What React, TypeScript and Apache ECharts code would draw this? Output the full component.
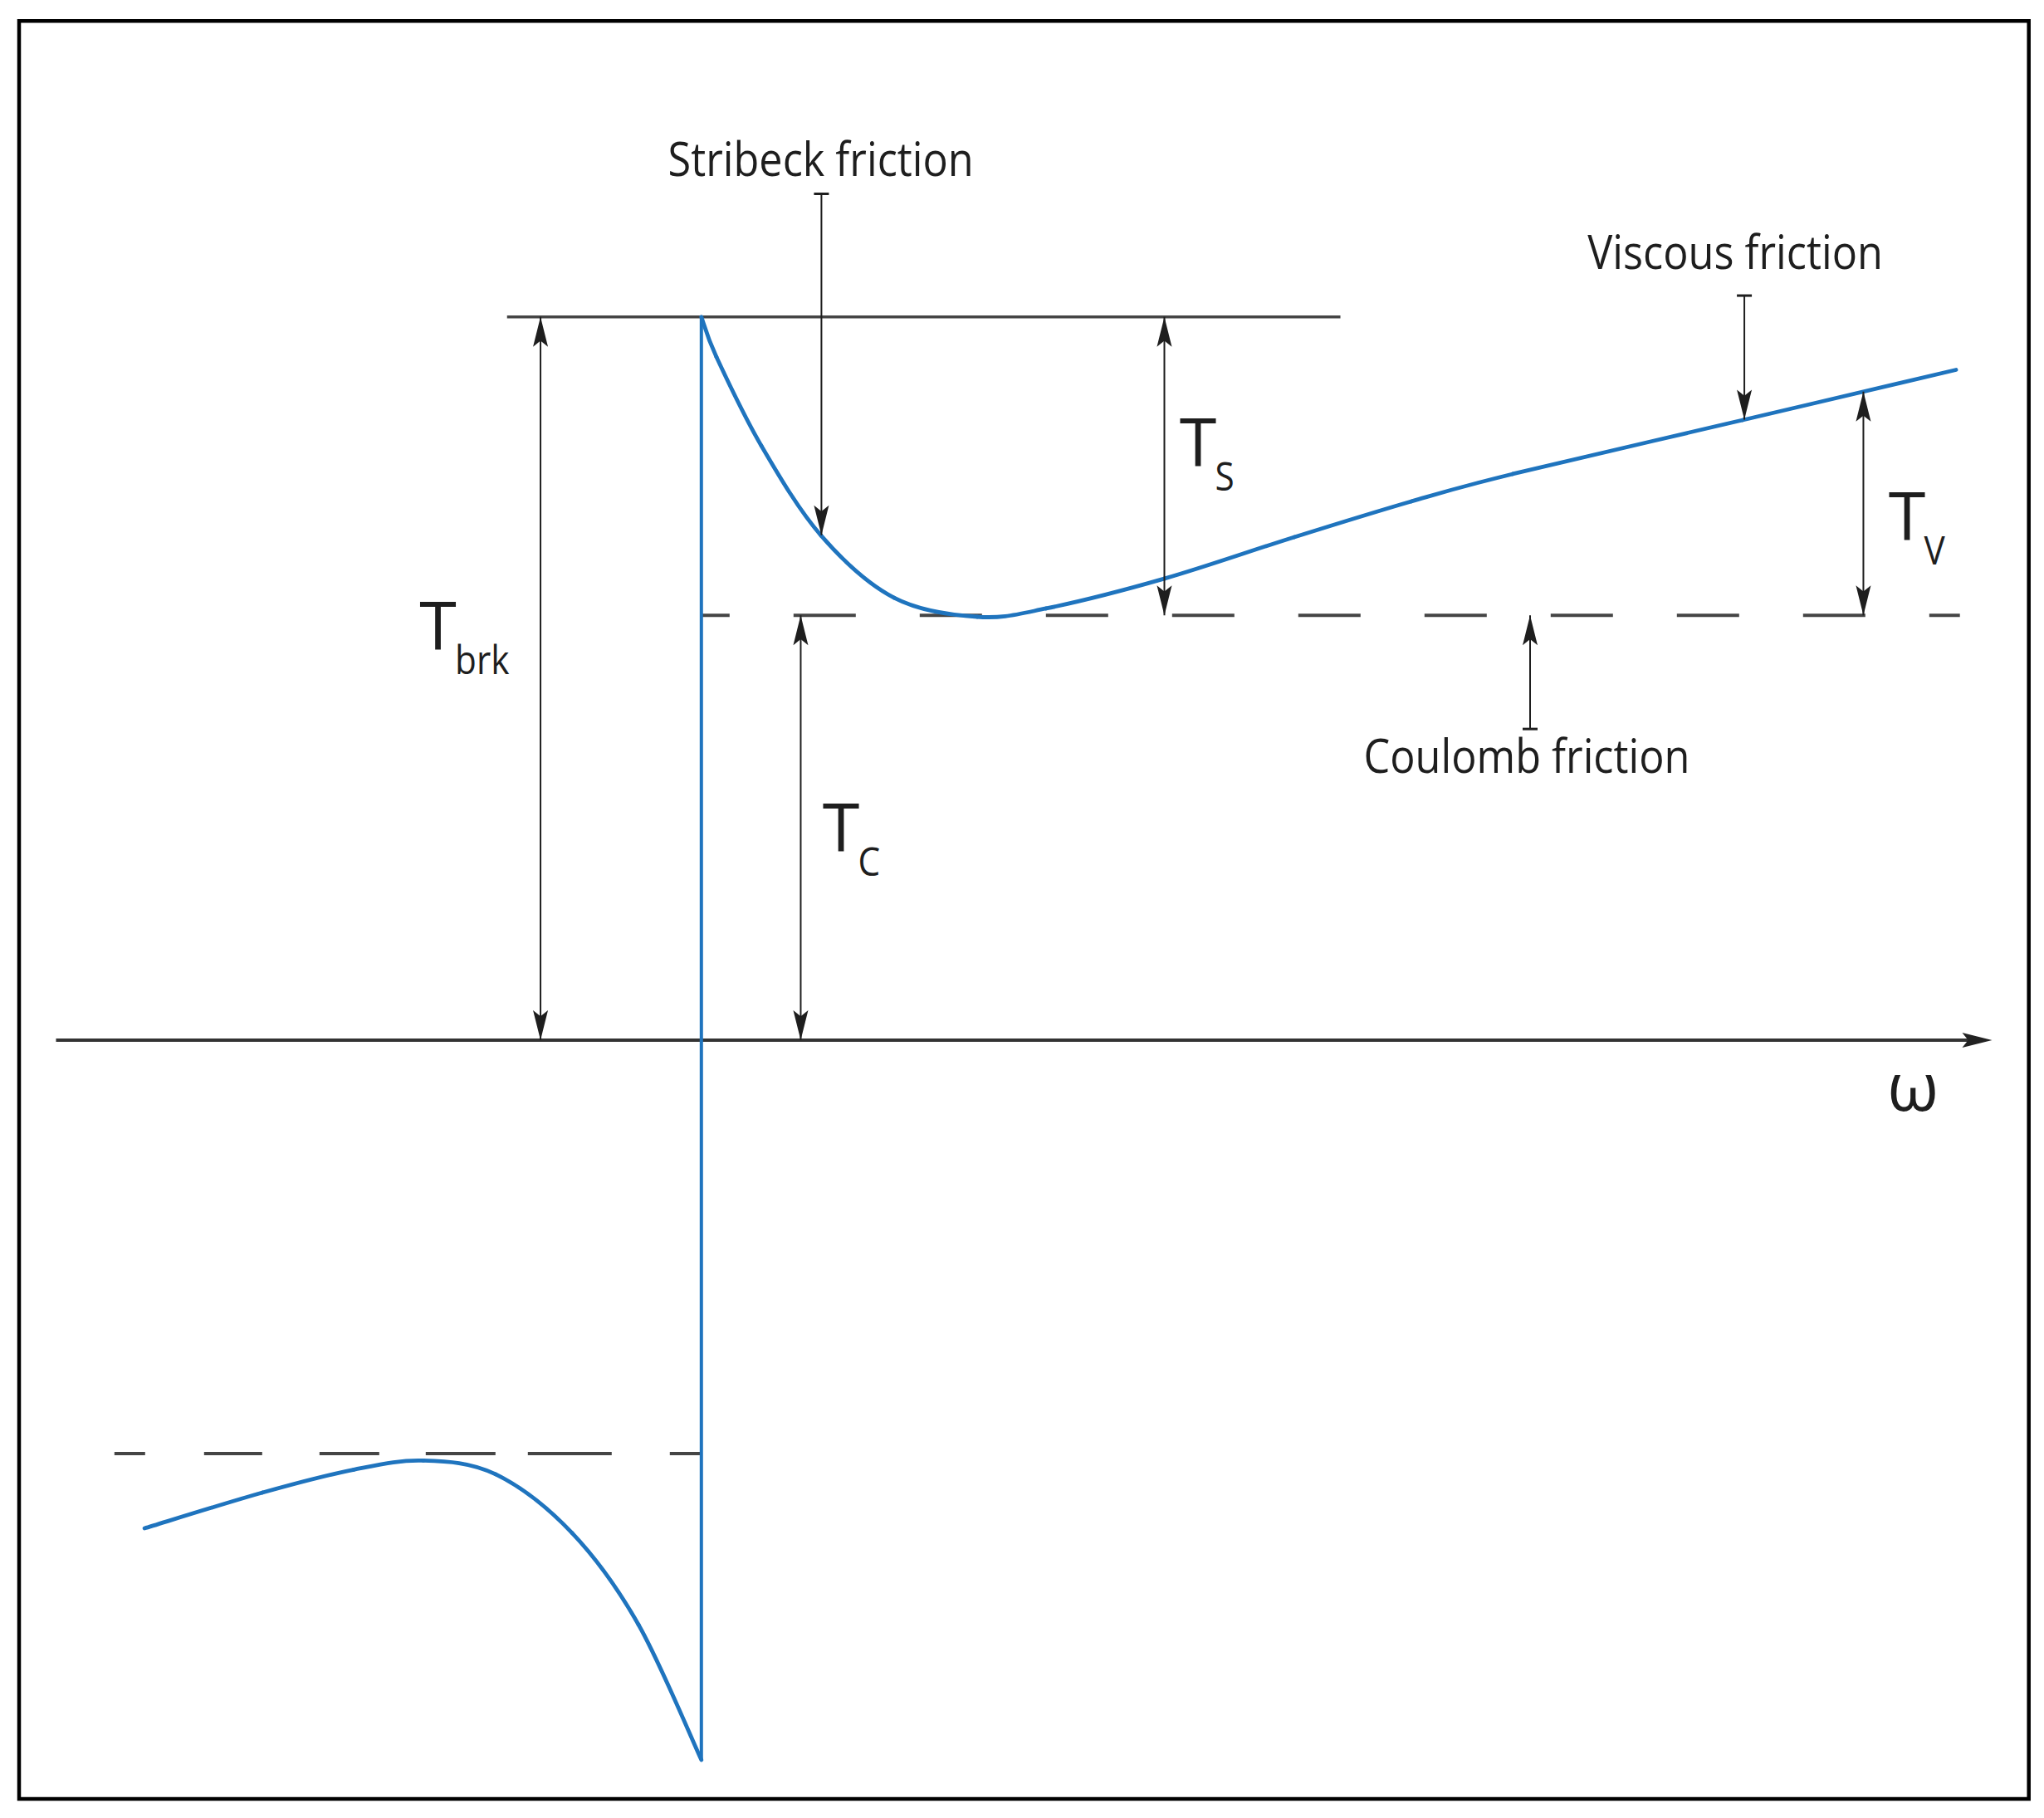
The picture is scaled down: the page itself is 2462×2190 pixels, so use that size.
import { useEffect, useRef } from "react";
import * as echarts from "echarts";

const WIDTH = 2462;
const HEIGHT = 2190;

// Axis domains: angular velocity ω (horizontal), friction torque T (vertical), arbitrary units
const OMEGA_MIN = -5;
const OMEGA_MAX = 10;
const TORQUE_MIN = -5.5;
const TORQUE_MAX = 7;

// Characteristic torque levels
const T_BRK = 5.125;
const T_COULOMB = 3.01;
const T_COULOMB_NEG = -2.93;
const T_BRK_NEG = -5.1;

// Friction curve for ω > 0 : [ω, T]
const positiveBranch: [number, number][] = [
  [0, 5.125], [0.117, 4.841], [0.466, 4.212], [0.93, 3.576], [1.498, 3.135],
  [2.143, 3.0], [2.679, 3.059], [3.601, 3.271], [4.608, 3.565], [5.517, 3.818],
  [6.305, 4.012], [8.092, 4.394], [9.75, 4.75],
];

// Friction curve for ω < 0 : [ω, T]
const negativeBranch: [number, number][] = [
  [-4.327, -3.459], [-3.411, -3.206], [-2.7, -3.043], [-2.16, -2.979],
  [-1.599, -3.076], [-1.005, -3.492], [-0.489, -4.141], [0, -5.1],
];

// Reference lines [ω, T]
const breakawayLine: [number, number][] = [[-1.51, T_BRK], [4.966, T_BRK]];
const coulombLine: [number, number][] = [[0, T_COULOMB], [9.78, T_COULOMB]];
const coulombLineNeg: [number, number][] = [[0, T_COULOMB_NEG], [-4.57, T_COULOMB_NEG]];
const jumpLine: [number, number][] = [[0, T_BRK_NEG], [0, T_BRK]];
const omegaAxisExtent = [-5.015, 10.03];

// Dimension arrows (double headed): ω, from T, to T
const dimOmega = [-1.25, 0.772, 3.598, 9.03];
const dimFrom = [0, 0, T_COULOMB, T_COULOMB];
const dimTo = [T_BRK, T_COULOMB, T_BRK, 4.595];

// Pointer arrows: ω, tail T, tip T
const ptrOmega = [0.933, 8.105, 6.44];
const ptrTail = [5.997, 5.276, 2.205];
const ptrTip = [3.578, 4.397, T_COULOMB];

// Symbol labels T_x : centre ω, baseline T
const symMain = ["T", "T", "T", "T"];
const symSub = ["brk", "S", "C", "V"];
const symOmega = [-2.047, 3.859, 1.085, 9.369];
const symTorque = [2.766, 4.066, 1.335, 3.541];

// Text notes : centre ω, baseline T
const noteText = ["Stribeck friction", "Viscous friction", "Coulomb friction"];
const noteOmega = [0.928, 8.034, 6.414];
const noteTorque = [6.125, 5.465, 1.894];

// Axis label
const axisLabel = "ω";
const axisLabelPos = [9.415, -0.5];

const BLUE = "#1f74be";
const INK = "#1e1e1e";
const GRAY = "#454545";
const FONT = "'Open Sans', 'Noto Sans', sans-serif";
const CENTRAL = 0.388;
const HEAD_W = 18;
const HEAD_L = 36;

function vHead(x: number, tipY: number, towardY: number) {
  const s = towardY > tipY ? 1 : -1;
  return {
    type: "polygon",
    shape: {
      points: [
        [x, tipY],
        [x + HEAD_W / 2, tipY + s * HEAD_L],
        [x, tipY + s * HEAD_L * 0.8],
        [x - HEAD_W / 2, tipY + s * HEAD_L],
      ],
    },
    style: { fill: INK },
  };
}

function lineEl(x1: number, y1: number, x2: number, y2: number, w: number, color: string) {
  return {
    type: "line",
    shape: { x1, y1, x2, y2 },
    style: { stroke: color, lineWidth: w },
  };
}

function textEl(text: string, x: number, baseline: number, size: number, align: string, scaleX: number, color: string) {
  return {
    type: "text",
    x,
    y: baseline - CENTRAL * size,
    scaleX,
    style: {
      text,
      x: 0,
      y: 0,
      fill: color,
      fontSize: size,
      fontFamily: FONT,
      fontWeight: "normal",
      align,
      textAlign: align,
      verticalAlign: "middle",
      textVerticalAlign: "middle",
    },
  };
}

function lineSeries(name: string, data: [number, number][], lineStyle: any, z: number) {
  return {
    type: "line",
    name,
    data,
    showSymbol: false,
    symbol: "none",
    lineStyle,
    z,
    silent: true,
    clip: false,
  };
}

// Smooth (Catmull-Rom) curve through the data points, positioned by the cartesian scales
function curveSeries(name: string, data: [number, number][]) {
  return {
    type: "custom",
    name,
    silent: true,
    clip: false,
    z: 3,
    data,
    renderItem: (p: any, api: any) => {
      if (p.dataIndex !== 0) return null;
      const pts: number[][] = data.map((d) => api.coord(d));
      const n = pts.length;
      const children: any[] = [];
      for (let i = 0; i < n - 1; i++) {
        const p0 = pts[Math.max(0, i - 1)];
        const p1 = pts[i];
        const p2 = pts[i + 1];
        const p3 = pts[Math.min(n - 1, i + 2)];
        children.push({
          type: "bezierCurve",
          shape: {
            x1: p1[0], y1: p1[1],
            x2: p2[0], y2: p2[1],
            cpx1: p1[0] + (p2[0] - p0[0]) / 6,
            cpy1: p1[1] + (p2[1] - p0[1]) / 6,
            cpx2: p2[0] - (p3[0] - p1[0]) / 6,
            cpy2: p2[1] - (p3[1] - p1[1]) / 6,
          },
          style: { stroke: BLUE, lineWidth: 4.8, fill: "none", lineCap: "round" },
        });
      }
      return { type: "group", children };
    },
  };
}

const option: any = {
  animation: false,
  backgroundColor: "#ffffff",
  grid: { left: 69.8, right: 67.2, top: 63, bottom: 2, containLabel: false },
  xAxis: { type: "value", min: OMEGA_MIN, max: OMEGA_MAX, show: false },
  yAxis: { type: "value", min: TORQUE_MIN, max: TORQUE_MAX, show: false },
  tooltip: { show: false },
  graphic: [
    {
      type: "rect",
      shape: { x: 23, y: 25.3, width: 2420.7, height: 2141.7 },
      style: { fill: "none", stroke: "#000", lineWidth: 4.5 },
      z: 100,
      silent: true,
    },
  ],
  series: [
    lineSeries("Breakaway level", breakawayLine, { color: GRAY, width: 3.5 }, 1),
    lineSeries("Coulomb level", coulombLine, { color: GRAY, width: 4, type: [75, 77], dashOffset: 41 }, 1),
    lineSeries("Coulomb level (neg)", coulombLineNeg, {
      color: GRAY, width: 4, type: [38, 70, 101, 39, 84, 56, 72, 69, 70, 71, 37, 120],
    }, 1),
    {
      type: "custom",
      name: "ω axis",
      silent: true,
      clip: false,
      z: 2,
      data: [[omegaAxisExtent[0], 0]],
      renderItem: (_p: any, api: any) => {
        const a = api.coord([omegaAxisExtent[0], 0]);
        const b = api.coord([omegaAxisExtent[1], 0]);
        return {
          type: "group",
          children: [
            lineEl(a[0], a[1], b[0] - HEAD_L * 0.7, b[1], 4, "#333"),
            {
              type: "polygon",
              shape: {
                points: [
                  [b[0], b[1]],
                  [b[0] - HEAD_L, b[1] - 9],
                  [b[0] - HEAD_L * 0.8, b[1]],
                  [b[0] - HEAD_L, b[1] + 9],
                ],
              },
              style: { fill: "#222" },
            },
          ],
        };
      },
    },
    lineSeries("Breakaway jump", jumpLine, { color: BLUE, width: 4 }, 3),
    curveSeries("Friction ω>0", positiveBranch),
    curveSeries("Friction ω<0", negativeBranch),
    {
      type: "custom",
      name: "Dimensions",
      silent: true,
      clip: false,
      z: 4,
      data: dimOmega.map((w, i) => [w, dimFrom[i], dimTo[i]]),
      renderItem: (_p: any, api: any) => {
        const w = api.value(0);
        const p1 = api.coord([w, api.value(1)]);
        const p2 = api.coord([w, api.value(2)]);
        return {
          type: "group",
          children: [
            lineEl(p1[0], p1[1], p2[0], p2[1], 2, INK),
            vHead(p1[0], p1[1], p2[1]),
            vHead(p2[0], p2[1], p1[1]),
          ],
        };
      },
    },
    {
      type: "custom",
      name: "Pointers",
      silent: true,
      clip: false,
      z: 4,
      data: ptrOmega.map((w, i) => [w, ptrTail[i], ptrTip[i]]),
      renderItem: (_p: any, api: any) => {
        const w = api.value(0);
        const t = api.coord([w, api.value(1)]);
        const h = api.coord([w, api.value(2)]);
        return {
          type: "group",
          children: [
            lineEl(t[0] - 9, t[1], t[0] + 9, t[1], 3, INK),
            lineEl(t[0], t[1], h[0], h[1], 2, INK),
            vHead(h[0], h[1], t[1]),
          ],
        };
      },
    },
    {
      type: "custom",
      name: "Symbols",
      silent: true,
      clip: false,
      z: 5,
      data: symOmega.map((w, i) => [w, symTorque[i]]),
      renderItem: (p: any, api: any) => {
        const i = p.dataIndex;
        const c = api.coord([api.value(0), api.value(1)]);
        return {
          type: "group",
          children: [
            textEl(symMain[i], c[0], c[1], 81, "center", 1, INK),
            textEl(symSub[i], c[0] + 20.5, c[1] + 29, 47, "left", 0.9, INK),
          ],
        };
      },
    },
    {
      type: "custom",
      name: "Notes",
      silent: true,
      clip: false,
      z: 5,
      data: noteOmega.map((w, i) => [w, noteTorque[i]]),
      renderItem: (p: any, api: any) => {
        const i = p.dataIndex;
        const c = api.coord([api.value(0), api.value(1)]);
        return textEl(noteText[i], c[0], c[1], 56, "center", 0.9, INK);
      },
    },
    {
      type: "custom",
      name: "Axis label",
      silent: true,
      clip: false,
      z: 5,
      data: [axisLabelPos],
      renderItem: (_p: any, api: any) => {
        const c = api.coord([api.value(0), api.value(1)]);
        return textEl(axisLabel, c[0], c[1], 80, "center", 1, INK);
      },
    },
  ],
};

export default function App() {
  const ref = useRef<HTMLDivElement>(null);
  useEffect(() => {
    if (!ref.current) return;
    const chart = echarts.init(ref.current, null, { renderer: "svg" });
    chart.setOption(option);
    return () => chart.dispose();
  }, []);
  return (
    <div
      ref={ref}
      style={{ position: "absolute", left: 0, top: 0, width: WIDTH, height: HEIGHT, background: "#fff" }}
    />
  );
}
